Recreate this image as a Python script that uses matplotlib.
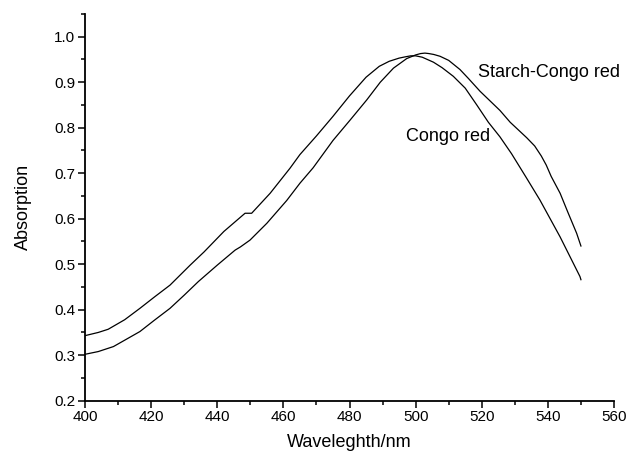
import numpy as np
import matplotlib.pyplot as plt
from matplotlib.ticker import MultipleLocator

plt.rcParams['font.family'] = ['Liberation Sans', 'DejaVu Sans']

# absorption spectra (wavelength in nm, absorbance)
wl_congo = [400, 404, 407, 412, 416.6, 421, 425.7, 431.8, 436, 442, 448.4, 450.4,
            456, 462, 465, 470, 475, 480, 485, 489, 492, 495, 497, 498.5, 500, 502,
            505.4, 508, 511.4, 515, 518.5, 522, 525.5, 529, 533.5, 537.6, 543.7,
            549.7, 550]
abs_congo = [0.343, 0.350, 0.357, 0.378, 0.403, 0.428, 0.454, 0.498, 0.527, 0.572, 0.612, 0.612,
             0.656, 0.711, 0.741, 0.782, 0.825, 0.870, 0.911, 0.935, 0.946, 0.953, 0.956, 0.958,
             0.958, 0.955, 0.944, 0.932, 0.913, 0.887, 0.850, 0.812, 0.780, 0.743, 0.690,
             0.641, 0.560, 0.473, 0.466]

wl_starch = [400, 404, 408.6, 412, 416.6, 421, 425.7, 430, 434.3, 440, 445.4, 447,
             449.9, 455, 461, 465, 469, 475, 480.2, 485.2, 489.3, 493.3, 497.3, 500,
             501.5, 502.8, 504, 505.5, 507.4, 510, 513.4, 516, 519.5, 525.5, 528.6,
             533.6, 536, 538, 539.5, 541, 543.7, 546, 548.7, 550]
abs_starch = [0.302, 0.308, 0.319, 0.333, 0.352, 0.377, 0.403, 0.432, 0.462, 0.498, 0.531, 0.538,
              0.553, 0.590, 0.640, 0.678, 0.712, 0.772, 0.817, 0.861, 0.900, 0.931, 0.952, 0.960,
              0.963, 0.964, 0.963, 0.961, 0.957, 0.948, 0.928, 0.908, 0.880, 0.838, 0.812,
              0.778, 0.760, 0.738, 0.718, 0.693, 0.656, 0.615, 0.568, 0.540]

fig = plt.figure(figsize=(6.28, 4.57), dpi=100)
ax = fig.add_axes([0.1354, 0.1232, 0.8423, 0.8462])

ax.plot(wl_congo, abs_congo, color='black', lw=0.9)
ax.plot(wl_starch, abs_starch, color='black', lw=0.9)

ax.text(519, 0.921, 'Starch-Congo red', fontsize=13, va='center', ha='left')
ax.text(497, 0.78, 'Congo red', fontsize=13, va='center', ha='left')

ax.set_xlim(400, 560)
ax.set_ylim(0.2, 1.05)
ax.xaxis.set_major_locator(MultipleLocator(20))
ax.xaxis.set_minor_locator(MultipleLocator(10))
ax.yaxis.set_major_locator(MultipleLocator(0.1))
ax.yaxis.set_minor_locator(MultipleLocator(0.05))
ax.yaxis.set_major_formatter(plt.FormatStrFormatter('%.1f'))

for side in ['top', 'right']:
    ax.spines[side].set_visible(False)
for side in ['left', 'bottom']:
    ax.spines[side].set_linewidth(1.3)

ax.tick_params(which='major', direction='out', length=5, width=1.1, labelsize=11, pad=2)
ax.tick_params(which='minor', direction='out', length=3, width=1.1)

ax.set_xlabel('Waveleghth/nm', fontsize=13, labelpad=7)
ax.set_ylabel('Absorption', fontsize=13, labelpad=16)

fig.savefig('out.png', dpi=100)
